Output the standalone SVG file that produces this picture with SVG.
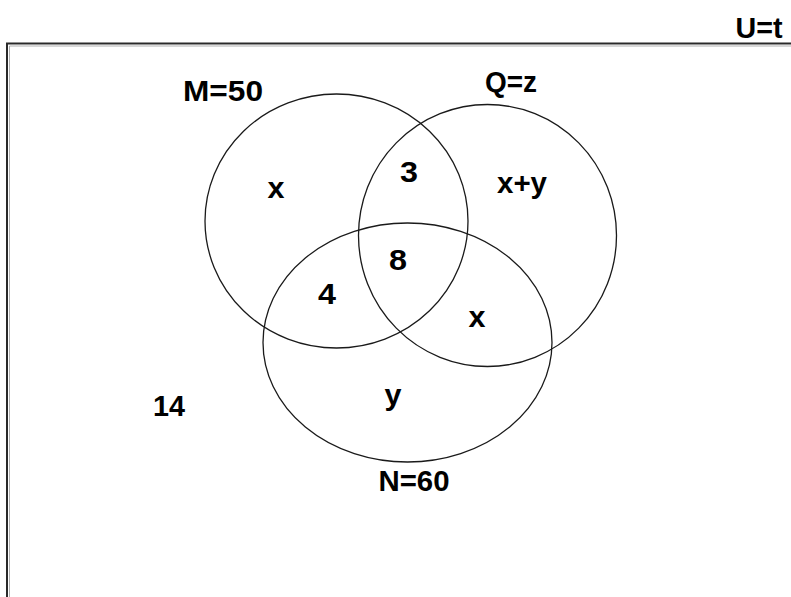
<svg xmlns="http://www.w3.org/2000/svg" width="791" height="597" viewBox="0 0 791 597">
<style>
.set{fill:none;stroke:#1a1a1a;stroke-width:1.3}
.lbl{font-family:"Liberation Sans",Arial,sans-serif;font-weight:bold;font-size:29px;fill:#000;text-anchor:middle}
</style>
<rect width="791" height="597" fill="#fff"/>
<g id="universe">
<path d="M7 597 V43.5 H791" fill="none" stroke="#2a2a2a" stroke-width="2"/>
<path d="M9.5 597 V46 H791" fill="none" stroke="#b0b0b0" stroke-width="1"/>
<text class="lbl" x="759" y="38" textLength="47" lengthAdjust="spacingAndGlyphs">U=t</text>
</g>
<g id="M">
<ellipse class="set" cx="336.5" cy="221" rx="131.5" ry="127"/>
<text class="lbl" x="223" y="101" textLength="80" lengthAdjust="spacingAndGlyphs">M=50</text>
</g>
<g id="Q">
<ellipse class="set" cx="487.5" cy="235.5" rx="129" ry="131"/>
<text class="lbl" x="511" y="92" textLength="52" lengthAdjust="spacingAndGlyphs">Q=z</text>
</g>
<g id="N">
<ellipse class="set" cx="407.5" cy="342.5" rx="144.5" ry="119.5"/>
<text class="lbl" x="414" y="491" textLength="71" lengthAdjust="spacingAndGlyphs">N=60</text>
</g>
<g id="regions">
<text class="lbl" x="276" y="198" textLength="17" lengthAdjust="spacingAndGlyphs">x</text>
<text class="lbl" x="409" y="182" textLength="18" lengthAdjust="spacingAndGlyphs">3</text>
<text class="lbl" x="522" y="193" textLength="50" lengthAdjust="spacingAndGlyphs">x+y</text>
<text class="lbl" x="398" y="270" textLength="18" lengthAdjust="spacingAndGlyphs">8</text>
<text class="lbl" x="327" y="304" textLength="18" lengthAdjust="spacingAndGlyphs">4</text>
<text class="lbl" x="477" y="327" textLength="17" lengthAdjust="spacingAndGlyphs">x</text>
<text class="lbl" x="393" y="405" textLength="17" lengthAdjust="spacingAndGlyphs">y</text>
<text class="lbl" x="169" y="416" textLength="32" lengthAdjust="spacingAndGlyphs">14</text>
</g>
<g id="connectors"></g>
</svg>
